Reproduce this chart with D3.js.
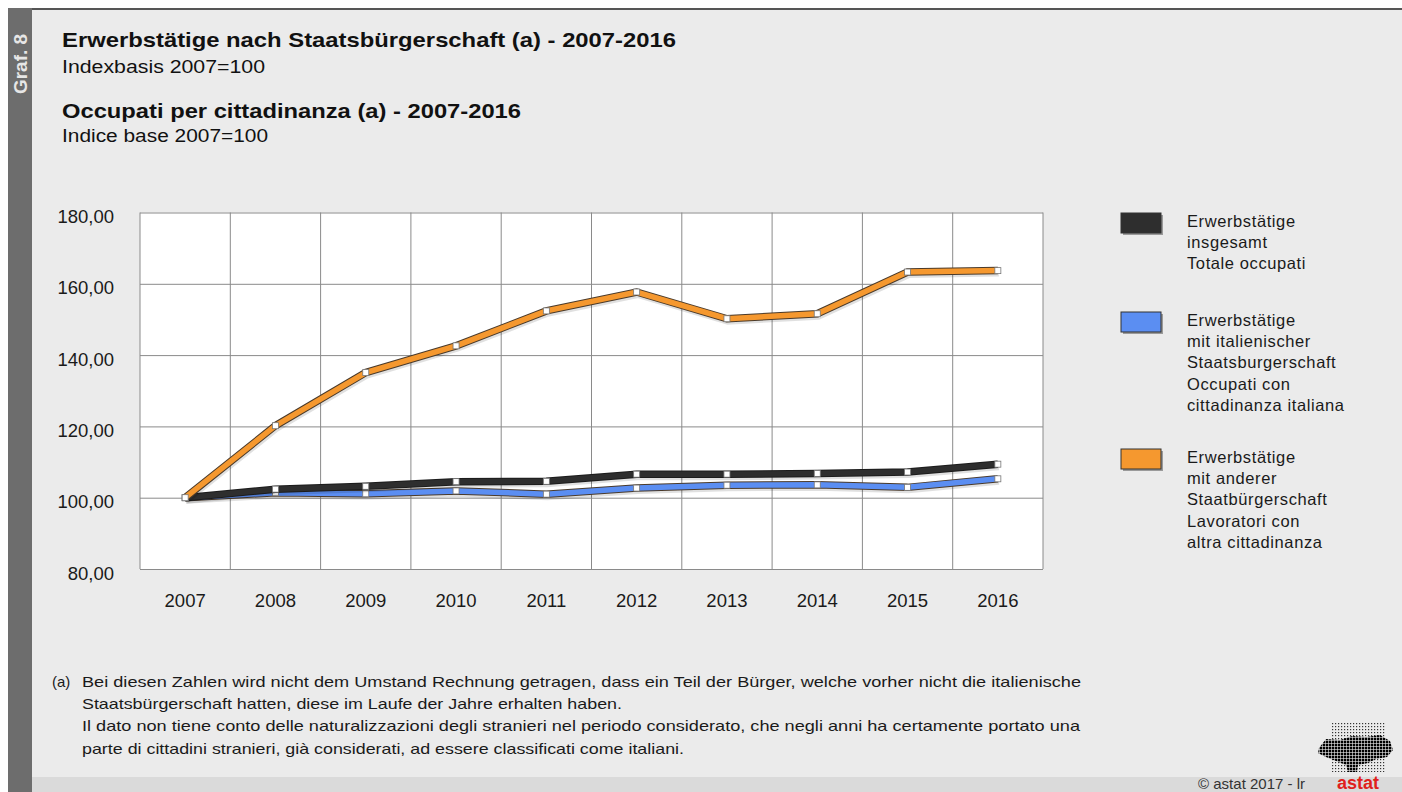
<!DOCTYPE html>
<html>
<head>
<meta charset="utf-8">
<script src="https://cdn.jsdelivr.net/npm/d3@7"></script>
<style>
  html, body { margin: 0; padding: 0; background: #fff; }
  svg { display: block; font-family: "Liberation Sans", Arial, sans-serif; }
</style>
</head>
<body>
<svg id="chart" width="1402" height="792"></svg>
<script>
// data (index 2007 = 100)
var years = ['2007', '2008', '2009', '2010', '2011', '2012', '2013', '2014', '2015', '2016'];
var totale = [100, 102.4, 103.2, 104.5, 104.6, 106.6, 106.6, 106.8, 107.2, 109.4];
var italiani = [100, 101.4, 101.1, 101.9, 101.0, 102.7, 103.5, 103.6, 102.9, 105.3];
var stranieri = [100, 120.2, 135.1, 142.6, 152.4, 157.7, 150.2, 151.6, 163.3, 163.7];
var yTicks = [80, 100, 120, 140, 160, 180];

var seriesNames = ['totale', 'italiani', 'stranieri'];
var seriesColors = { totale: '#2e2e2e', italiani: '#5b8ef2', stranieri: '#f5982f' };
var legendLines = {
  totale: ['Erwerbstätige', 'insgesamt', 'Totale occupati'],
  italiani: ['Erwerbstätige', 'mit italienischer', 'Staatsburgerschaft', 'Occupati con', 'cittadinanza italiana'],
  stranieri: ['Erwerbstätige', 'mit anderer', 'Staatbürgerschaft', 'Lavoratori con', 'altra cittadinanza']
};
var seriesValues = { totale: totale, italiani: italiani, stranieri: stranieri };

var svg = d3.select('#chart');

// frame
svg.append('rect').attr('x', 8).attr('y', 8).attr('width', 1394).attr('height', 784).attr('fill', '#ebebeb');
svg.append('rect').attr('x', 32).attr('y', 777).attr('width', 1370).attr('height', 15).attr('fill', '#dadada');
svg.append('rect').attr('x', 8).attr('y', 8).attr('width', 1394).attr('height', 2).attr('fill', '#555');
svg.append('rect').attr('x', 8).attr('y', 8).attr('width', 24).attr('height', 784).attr('fill', '#6d6d6d');
svg.append('text')
  .attr('transform', 'translate(27,64) rotate(-90)')
  .attr('text-anchor', 'middle')
  .attr('fill', '#e6e6e6').attr('font-weight', 'bold').attr('font-size', 19)
  .text('Graf. 8');

// titles
var titles = [
  { t: 'Erwerbstätige nach Staatsbürgerschaft (a) - 2007-2016', y: 47, s: 21, b: true, w: 614 },
  { t: 'Indexbasis 2007=100', y: 73, s: 17.5, b: false, w: 203 },
  { t: 'Occupati per cittadinanza (a) - 2007-2016', y: 118, s: 21, b: true, w: 459 },
  { t: 'Indice base 2007=100', y: 142, s: 17.5, b: false, w: 206 }
];
svg.selectAll('.title').data(titles).enter().append('text')
  .attr('class', 'title')
  .attr('x', 62).attr('y', function(d) { return d.y; })
  .attr('font-size', function(d) { return d.s; })
  .attr('font-weight', function(d) { return d.b ? 'bold' : 'normal'; })
  .attr('textLength', function(d) { return d.w; })
  .attr('lengthAdjust', 'spacingAndGlyphs')
  .attr('fill', '#111')
  .text(function(d) { return d.t; });

// scales
var x = d3.scaleBand().domain(years).range([140, 1043]);
var y = d3.scaleLinear().domain([80, 180]).range([569, 212.5]);
var cx = function(d) { return x(d) + x.bandwidth() / 2; };

var plot = svg.append('g');
plot.append('rect')
  .attr('x', 140).attr('y', y(180))
  .attr('width', 903).attr('height', y(80) - y(180))
  .attr('fill', '#fff');

// horizontal grid + y labels
var fmt = d3.formatLocale({ decimal: ',', thousands: '.', grouping: [3], currency: ['', ''] }).format('.2f');
var yAxis = plot.append('g')
  .attr('transform', 'translate(140,0)')
  .call(d3.axisLeft(y).tickValues(yTicks).tickSize(-903).tickPadding(26).tickFormat(fmt));
yAxis.select('.domain').remove();
yAxis.selectAll('line').attr('stroke', '#8a8a8a');
yAxis.selectAll('text')
  .attr('font-size', 18.5).attr('fill', '#1a1a1a').attr('dy', '0.55em')
  .attr('font-family', '"Liberation Sans", Arial, sans-serif');

// vertical grid at band edges
plot.selectAll('.vgrid').data(years.concat(['end'])).enter().append('line')
  .attr('class', 'vgrid')
  .attr('x1', function(d) { return d === 'end' ? x.range()[1] : x(d); })
  .attr('x2', function(d) { return d === 'end' ? x.range()[1] : x(d); })
  .attr('y1', y(180)).attr('y2', y(80))
  .attr('stroke', '#8a8a8a');

var xAxis = plot.append('g')
  .attr('transform', 'translate(0,' + y(80) + ')')
  .call(d3.axisBottom(x).tickSize(0).tickPadding(25));
xAxis.select('.domain').remove();
xAxis.selectAll('text')
  .attr('font-size', 18.5).attr('fill', '#1a1a1a')
  .attr('font-family', '"Liberation Sans", Arial, sans-serif');

// lines
var line = d3.line()
  .x(function(d, i) { return cx(years[i]); })
  .y(function(d) { return y(d); });

var drawOrder = ['italiani', 'totale', 'stranieri'];
drawOrder.forEach(function(name) {
  var vals = seriesValues[name];
  plot.append('path').datum(vals)
    .attr('d', line).attr('fill', 'none')
    .attr('stroke', 'rgba(0,0,0,0.12)').attr('stroke-width', 8)
    .attr('transform', 'translate(1,2)');
  plot.append('path').datum(vals)
    .attr('d', line).attr('fill', 'none')
    .attr('stroke', name === 'totale' ? '#1c1c1c' : '#4a3a2a').attr('stroke-width', 7.5)
    .attr('stroke-linejoin', 'miter');
  plot.append('path').datum(vals)
    .attr('d', line).attr('fill', 'none')
    .attr('stroke', seriesColors[name]).attr('stroke-width', 5.5)
    .attr('stroke-linejoin', 'miter');
  plot.selectAll('.m-' + name).data(vals).enter().append('rect')
    .attr('class', 'm-' + name)
    .attr('x', function(d, i) { return cx(years[i]) - 3; })
    .attr('y', function(d) { return y(d) - 3; })
    .attr('width', 6).attr('height', 6)
    .attr('fill', '#fff').attr('stroke', '#777').attr('stroke-width', 0.8);
});

// legend
var legendY = { totale: 213, italiani: 312, stranieri: 449 };
seriesNames.forEach(function(name) {
  var g = svg.append('g').attr('transform', 'translate(1121,' + legendY[name] + ')');
  g.append('rect').attr('x', 2).attr('y', 2).attr('width', 40).attr('height', 20).attr('fill', '#9a9a9a');
  g.append('rect').attr('width', 40).attr('height', 20)
    .attr('fill', seriesColors[name]).attr('stroke', '#333').attr('stroke-width', 1);
  g.selectAll('text').data(legendLines[name]).enter().append('text')
    .attr('x', 66).attr('y', function(d, i) { return 13.5 + i * 21.4; })
    .attr('font-size', 16.5).attr('letter-spacing', 0.6).attr('fill', '#1a1a1a')
    .text(function(d) { return d; });
});

// footnote
var notes = [
  { t: 'Bei diesen Zahlen wird nicht dem Umstand Rechnung getragen, dass ein Teil der Bürger, welche vorher nicht die italienische', w: 999 },
  { t: 'Staatsbürgerschaft hatten, diese im Laufe der Jahre erhalten haben.', w: 540 },
  { t: 'Il dato non tiene conto delle naturalizzazioni degli stranieri nel periodo considerato, che negli anni ha certamente portato una', w: 998 },
  { t: 'parte di cittadini stranieri, già considerati, ad essere classificati come italiani.', w: 602 }
];
svg.append('text').attr('x', 52).attr('y', 686.5).attr('font-size', 15).attr('fill', '#1a1a1a').text('(a)');
svg.selectAll('.note').data(notes).enter().append('text')
  .attr('class', 'note')
  .attr('x', 82).attr('y', function(d, i) { return 686.5 + i * 22.4; })
  .attr('font-size', 15).attr('fill', '#1a1a1a')
  .attr('textLength', function(d) { return d.w; })
  .attr('lengthAdjust', 'spacingAndGlyphs')
  .text(function(d) { return d.t; });

// copyright + logo
svg.append('text').attr('x', 1305).attr('y', 789).attr('text-anchor', 'end')
  .attr('font-size', 15).attr('fill', '#333').text('©  astat 2017 - lr');

var defs = svg.append('defs');
defs.append('pattern').attr('id', 'dots').attr('width', 3).attr('height', 3)
  .attr('patternUnits', 'userSpaceOnUse')
  .append('rect').attr('width', 2.4).attr('height', 2.4).attr('fill', '#000');
defs.append('pattern').attr('id', 'dotsLight').attr('width', 3).attr('height', 3)
  .attr('patternUnits', 'userSpaceOnUse')
  .append('rect').attr('width', 1.2).attr('height', 1.2).attr('fill', '#333');

svg.append('rect').attr('x', 1331).attr('y', 722).attr('width', 54).attr('height', 50).attr('fill', 'url(#dotsLight)');
var blob = [[1319, 748], [1326, 739], [1340, 740], [1352, 736], [1366, 737], [1380, 735], [1390, 741],
  [1393, 750], [1387, 757], [1376, 759], [1368, 763], [1358, 765], [1357, 772], [1348, 772],
  [1346, 765], [1336, 761], [1326, 757], [1318, 753]];
svg.append('path').attr('d', d3.line()(blob) + 'Z').attr('fill', 'url(#dots)');
svg.append('text').attr('x', 1358).attr('y', 789).attr('text-anchor', 'middle')
  .attr('font-size', 18).attr('font-weight', 'bold').attr('fill', '#e0201b').text('astat');
</script>
</body>
</html>
